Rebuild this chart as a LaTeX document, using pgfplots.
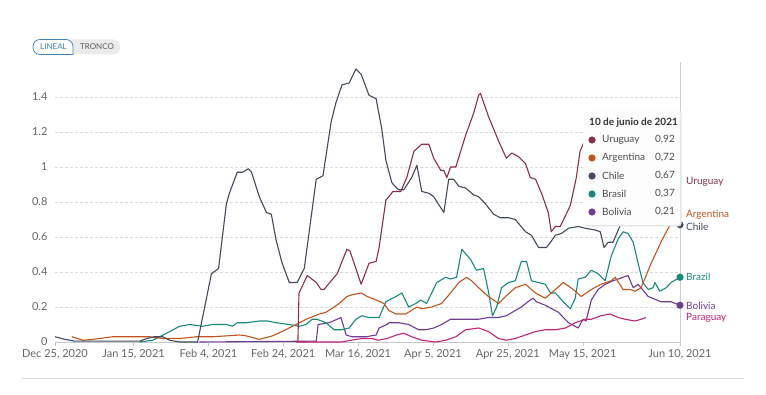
\documentclass[border=0pt]{standalone}
\usepackage{pgfplots}
\pgfplotsset{compat=1.18}
\usepackage{fontspec}
\setmainfont{Lato}
\definecolor{uru}{RGB}{139,48,72}
\definecolor{arg}{RGB}{194,85,30}
\definecolor{chi}{RGB}{66,74,94}
\definecolor{bra}{RGB}{23,138,125}
\definecolor{bol}{RGB}{110,60,150}
\definecolor{par}{RGB}{196,36,120}
\definecolor{tickgray}{RGB}{102,102,102}
\definecolor{btnblue}{RGB}{60,130,190}
\begin{document}
\begin{tikzpicture}[x=1pt,y=1pt]
\path[use as bounding box] (0,0) rectangle (766,394);
\begin{axis}[
  at={(55pt,52pt)}, anchor=south west,
  scale only axis, width=625pt, height=280pt,
  xmin=0, xmax=167, ymin=0, ymax=1.6,
  axis lines*=left,
  axis line style={-},
  y axis line style={draw=none},
  x axis line style={draw=black!22},
  xtick={0,21,41,61,81,101,121,141,167},
  xticklabels={{Dec 25, 2020},{Jan 15, 2021},{Feb 4, 2021},{Feb 24, 2021},{Mar 16, 2021},{Apr 5, 2021},{Apr 25, 2021},{May 15, 2021},{Jun 10, 2021}},
  ytick={0,0.2,0.4,0.6,0.8,1,1.2,1.4},
  yticklabels={0,0.2,0.4,0.6,0.8,1,1.2,1.4},
  tick align=outside,
  major tick length=4pt,
  xtick style={draw=black!22},
  ytick style={draw=none},
  ymajorgrids,
  grid style={densely dashed, black!15},
  ticklabel style={font=\fontsize{11}{13}\selectfont, text=tickgray},
  /pgf/number format/assume math mode=true,
  clip=false,
  every axis plot/.append style={line width=1.1pt, line join=round, mark=none},
]
% Bolivia
\addplot[bol] coordinates {(38.6,0) (69.8,0.005) (70.3,0.10) (73.2,0.11) (75.4,0.13) (76.4,0.14) (77.8,0.04) (79.4,0.03) (83.1,0.03) (85.8,0.04) (86.6,0.08) (88.7,0.10) (89.2,0.11) (91.9,0.11) (94.5,0.10) (97.2,0.07) (99.1,0.07) (101.2,0.08) (103.3,0.10) (105.7,0.13) (107.9,0.13) (111.1,0.13) (113.2,0.13) (115.8,0.14) (118.5,0.14) (120.6,0.15) (123.0,0.18) (124.6,0.20) (127.0,0.24) (127.8,0.25) (128.6,0.23) (131.0,0.21) (134.5,0.17) (137.2,0.11) (139.8,0.08) (141.1,0.13) (141.9,0.12) (143.3,0.24) (145.1,0.30) (147.0,0.33) (149.1,0.35) (150.5,0.36) (153.1,0.38) (154.5,0.31) (155.8,0.33) (158.5,0.26) (161.9,0.23) (164.6,0.23) (167,0.21)};
% Paraguay
\addplot[par] coordinates {(64.4,0) (76.7,0) (79.0,0.01) (82.0,0.02) (84.7,0.02) (86.3,0.01) (88.7,0.02) (91.3,0.04) (93.2,0.05) (95.3,0.03) (98.0,0.01) (101.7,0.0) (104.4,0.01) (107.1,0.03) (109.7,0.07) (113.2,0.08) (115.8,0.06) (118.5,0.02) (120.6,0.01) (123.0,0.02) (125.7,0.04) (128.4,0.06) (131.0,0.07) (133.7,0.07) (136.4,0.08) (139.0,0.11) (141.7,0.13) (143.3,0.13) (145.9,0.15) (148.3,0.16) (150.5,0.14) (152.3,0.13) (155.0,0.12) (156.6,0.13) (157.9,0.14)};
% Brasil
\addplot[bra] coordinates {(22.6,0) (26.1,0.01) (29.8,0.05) (33.3,0.09) (36.0,0.10) (39.4,0.09) (42.1,0.10) (45.8,0.10) (47.4,0.09) (48.7,0.11) (51.1,0.11) (54.6,0.12) (56.7,0.12) (59.1,0.11) (62.6,0.10) (65.2,0.09) (67.1,0.10) (68.7,0.13) (70.0,0.13) (72.4,0.11) (74.6,0.07) (76.7,0.07) (78.6,0.08) (80.4,0.13) (82.0,0.15) (83.9,0.14) (86.6,0.14) (88.4,0.23) (91.1,0.26) (92.7,0.28) (94.5,0.20) (96.4,0.22) (97.7,0.24) (99.3,0.22) (102.0,0.34) (104.4,0.37) (105.7,0.36) (107.3,0.37) (108.7,0.53) (111.1,0.47) (112.6,0.41) (114.5,0.42) (115.8,0.29) (116.9,0.15) (118.0,0.20) (119.3,0.31) (121.2,0.34) (123.0,0.35) (124.6,0.46) (126.0,0.46) (127.3,0.35) (129.2,0.34) (131.0,0.33) (132.4,0.28) (133.7,0.28) (135.8,0.23) (137.7,0.19) (139.0,0.25) (139.8,0.36) (141.7,0.37) (143.3,0.41) (145.1,0.39) (147.0,0.35) (148.6,0.49) (150.5,0.59) (151.8,0.63) (153.1,0.62) (154.5,0.57) (155.8,0.45) (157.1,0.34) (158.5,0.30) (159.8,0.31) (160.3,0.34) (161.6,0.29) (163.3,0.31) (164.6,0.34) (167,0.37)};
% Argentina
\addplot[arg] coordinates {(4.5,0.03) (7.5,0.01) (10.1,0.015) (15.4,0.03) (20.8,0.03) (25.3,0.03) (28.8,0.02) (33.3,0.02) (37.8,0.03) (42.1,0.03) (45.8,0.035) (49.3,0.04) (51.1,0.035) (54.6,0.015) (58.1,0.035) (60.7,0.06) (64.4,0.10) (67.1,0.13) (70.6,0.16) (72.4,0.17) (74.6,0.20) (75.9,0.22) (78.0,0.26) (79.4,0.27) (81.8,0.28) (83.4,0.26) (85.8,0.24) (87.9,0.22) (89.2,0.18) (91.1,0.16) (93.7,0.16) (96.7,0.20) (98.0,0.19) (100.7,0.20) (103.3,0.22) (105.7,0.28) (107.9,0.34) (110.0,0.37) (111.3,0.35) (113.2,0.31) (115.8,0.26) (118.5,0.22) (120.4,0.26) (123.0,0.31) (125.7,0.33) (128.4,0.28) (131.0,0.25) (133.7,0.30) (135.8,0.34) (138.5,0.30) (140.6,0.26) (143.3,0.30) (145.9,0.33) (148.6,0.35) (149.7,0.37) (151.8,0.30) (153.7,0.30) (155.0,0.29) (156.6,0.31) (159.3,0.45) (161.9,0.57) (164.6,0.68) (167,0.72)};
% Uruguay
\addplot[uru] coordinates {(64.9,0) (65.2,0.28) (67.4,0.38) (69.8,0.34) (71.1,0.30) (71.9,0.30) (73.8,0.35) (75.4,0.39) (78.0,0.53) (78.8,0.52) (80.4,0.42) (81.8,0.33) (83.9,0.45) (85.8,0.46) (86.6,0.54) (88.4,0.81) (90.3,0.86) (92.4,0.86) (94.0,0.94) (95.9,1.09) (98.0,1.13) (99.9,1.13) (101.2,1.05) (103.1,0.98) (103.9,0.98) (104.7,0.94) (105.7,1.00) (107.1,1.00) (109.7,1.18) (111.9,1.31) (113.2,1.41) (113.7,1.42) (115.8,1.29) (118.5,1.15) (120.6,1.05) (122.0,1.08) (123.8,1.06) (125.7,1.02) (127.0,0.94) (128.4,0.93) (130.0,0.85) (131.8,0.74) (132.6,0.63) (133.7,0.66) (135.0,0.66) (137.7,0.78) (139.3,0.94) (140.3,1.09) (141.5,1.15) (144,1.20) (147,1.18) (150,1.12) (153,1.06) (157,1.00) (161,0.96) (164,0.93) (167,0.92)};
% Chile
\addplot[chi] coordinates {(0,0.03) (2.7,0.015) (5.3,0.005) (22.6,0.005) (24.5,0.02) (26.6,0.03) (28.8,0.03) (30.6,0.01) (33.3,0.0) (38.1,0.0) (41.8,0.39) (43.7,0.42) (45.8,0.79) (46.6,0.85) (48.7,0.97) (50.1,0.97) (51.7,0.99) (52.5,0.97) (54.6,0.83) (56.5,0.74) (57.8,0.73) (59.1,0.58) (60.7,0.45) (62.6,0.34) (64.7,0.34) (66.6,0.42) (69.8,0.93) (71.6,0.95) (73.8,1.26) (75.1,1.37) (76.7,1.47) (78.6,1.48) (80.4,1.56) (81.8,1.53) (83.9,1.41) (85.8,1.39) (87.3,1.22) (88.4,1.04) (90.0,0.91) (91.3,0.88) (91.9,0.87) (93.2,0.87) (95.3,0.94) (96.7,1.01) (98.0,0.86) (99.9,0.85) (101.2,0.83) (103.9,0.74) (105.2,0.93) (106.5,0.93) (107.9,0.89) (109.7,0.88) (111.9,0.84) (113.2,0.83) (115.0,0.79) (117.2,0.73) (119.0,0.71) (121.2,0.71) (123.0,0.70) (125.7,0.63) (127.3,0.61) (129.2,0.54) (131.3,0.54) (132.4,0.57) (133.7,0.61) (135.3,0.62) (137.2,0.65) (139.8,0.66) (141.7,0.65) (144.3,0.64) (145.7,0.63) (146.7,0.54) (147.8,0.57) (149.1,0.57) (151.3,0.68) (153.5,0.74) (156,0.76) (159,0.74) (162,0.71) (165,0.69) (167,0.67)};
% end markers
\addplot[chi, only marks, mark=*, mark size=3pt] coordinates {(167,0.67)};
\addplot[bra, only marks, mark=*, mark size=3pt] coordinates {(167,0.37)};
\addplot[bol, only marks, mark=*, mark size=3pt] coordinates {(167,0.21)};
\draw[black!20, line width=0.6pt] (axis cs:167,0) -- (axis cs:167,1.6);
\end{axis}
% end labels
\begin{scope}[every node/.style={anchor=west, font=\fontsize{10}{12}\selectfont, inner sep=0pt}]
\node[text=uru] at (686,212) {Uruguay};
\node[text=arg] at (686,179) {Argentina};
\node[text=chi] at (686,167) {Chile};
\node[text=bra] at (686,117) {Brazil};
\node[text=bol] at (686,88) {Bolivia};
\node[text=par] at (686,76) {Paraguay};
\end{scope}
% tooltip
\fill[black!10, rounded corners=3pt] (584.5,167.5) rectangle (681.5,283.5);
\fill[white, fill opacity=0.93, rounded corners=3pt] (583,169) rectangle (680,285);
\node[anchor=west, font=\bfseries\fontsize{10}{12}\selectfont, text=black!80, inner sep=0pt] at (589,271) {10 de junio de 2021};
\begin{scope}[every node/.style={font=\fontsize{10}{12}\selectfont, text=black!70, inner sep=0pt}]
\fill[uru] (592,254) circle (3.6pt); \node[anchor=west] at (602,254) {Uruguay}; \node[anchor=east] at (675,254) {0,92};
\fill[arg] (592,236) circle (3.6pt); \node[anchor=west] at (602,236) {Argentina}; \node[anchor=east] at (675,236) {0,72};
\fill[chi] (592,218) circle (3.6pt); \node[anchor=west] at (602,218) {Chile}; \node[anchor=east] at (675,218) {0,67};
\fill[bra] (592,200) circle (3.6pt); \node[anchor=west] at (602,200) {Brasil}; \node[anchor=east] at (675,200) {0,37};
\fill[bol] (592,182) circle (3.6pt); \node[anchor=west] at (602,182) {Bolivia}; \node[anchor=east] at (675,182) {0,21};
\end{scope}
% buttons
\fill[black!8, rounded corners=7pt] (33,339.5) rectangle (120,354.5);
\draw[btnblue, fill=white, line width=0.7pt, rounded corners=7pt] (33,339.5) -- (33,354.5) -- (73,354.5) [sharp corners] -- (73,339.5) [rounded corners=7pt] -- cycle;
\node[font=\fontsize{8}{10}\selectfont, text=btnblue, inner sep=0pt] at (53.5,347) {LINEAL};
\node[font=\fontsize{8}{10}\selectfont, text=black!65, inner sep=0pt] at (97,347) {TRONCO};
% bottom rule
\draw[black!15, line width=0.8pt] (22,16) -- (744,16);
\end{tikzpicture}
\end{document}
